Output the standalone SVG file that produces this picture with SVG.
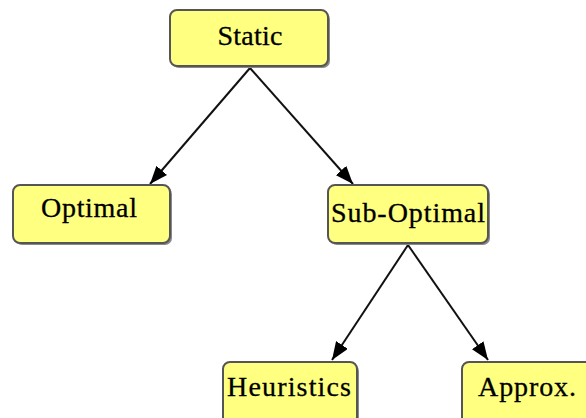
<svg xmlns="http://www.w3.org/2000/svg" width="586" height="418" viewBox="0 0 586 418">
  <style>
    .box { fill: #ffff80; stroke: #555555; stroke-width: 2; }
    .shadow { fill: #8a8a8a; }
    .label { font-family: "Liberation Serif", "Times New Roman", serif; font-size: 28px; fill: #000000; stroke: #000000; stroke-width: 0.3; text-anchor: middle; }
    .edge { stroke: #111111; stroke-width: 2; fill: none; marker-end: url(#arrowhead); }
  </style>
  <defs>
    <marker id="arrowhead" viewBox="0 0 18 14" refX="18" refY="7" markerWidth="18" markerHeight="14" markerUnits="userSpaceOnUse" orient="auto">
      <path d="M0,0 L18,7 L0,14 z" fill="#000000"/>
    </marker>
  </defs>
  <rect width="586" height="418" fill="#ffffff"/>

  <g id="connectors">
    <line class="edge" x1="250" y1="68" x2="150" y2="184"/>
    <line class="edge" x1="250" y1="68" x2="353" y2="184"/>
    <line class="edge" x1="408" y1="245" x2="332" y2="360"/>
    <line class="edge" x1="408" y1="245" x2="488" y2="360"/>
  </g>

  <g id="static">
    <rect class="shadow" x="172" y="12" width="158" height="56" rx="7"/>
    <rect class="box" x="170" y="10" width="158" height="56" rx="7"/>
    <text class="label" x="250" y="45" textLength="65" lengthAdjust="spacing">Static</text>
  </g>

  <g id="optimal">
    <rect class="shadow" x="15" y="187" width="157" height="58" rx="7"/>
    <rect class="box" x="13" y="185" width="157" height="58" rx="7"/>
    <text class="label" x="89" y="217" textLength="96" lengthAdjust="spacing">Optimal</text>
  </g>

  <g id="sub-optimal">
    <rect class="shadow" x="330" y="187" width="160" height="58" rx="7"/>
    <rect class="box" x="328" y="185" width="160" height="58" rx="7"/>
    <text class="label" x="408" y="222" textLength="154" lengthAdjust="spacing">Sub-Optimal</text>
  </g>

  <g id="heuristics">
    <rect class="shadow" x="225" y="364" width="134" height="62" rx="7"/>
    <rect class="box" x="223" y="362" width="134" height="62" rx="7"/>
    <text class="label" x="289" y="396" textLength="124" lengthAdjust="spacing">Heuristics</text>
  </g>

  <g id="approx">
    <rect class="shadow" x="464" y="364" width="130" height="62" rx="7"/>
    <rect class="box" x="462" y="362" width="130" height="62" rx="7"/>
    <text class="label" x="527" y="396" textLength="98" lengthAdjust="spacing">Approx.</text>
  </g>
</svg>
